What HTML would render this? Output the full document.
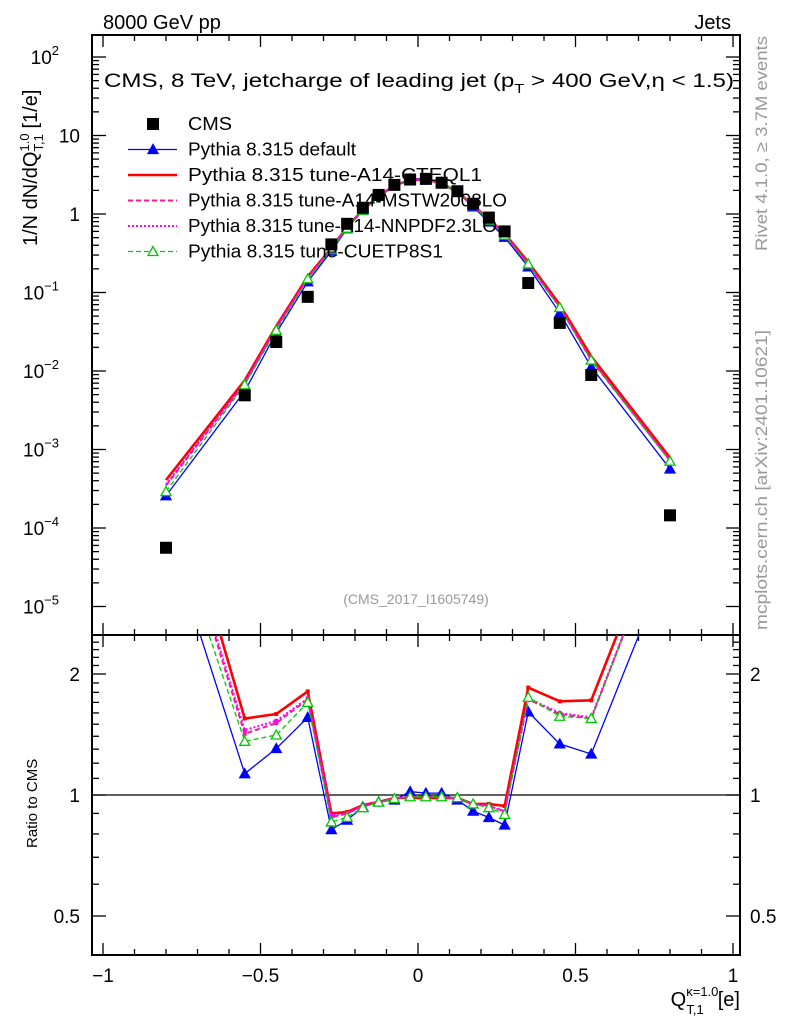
<!DOCTYPE html>
<html><head><meta charset="utf-8"><style>
html,body{margin:0;padding:0;background:#fff;}
svg{display:block;font-family:"Liberation Sans","DejaVu Sans",sans-serif;}
</style></head><body>
<svg id="chart" width="786" height="1024" viewBox="0 0 786 1024" xmlns="http://www.w3.org/2000/svg">
<defs>
<clipPath id="clipMain"><rect x="92" y="35" width="648" height="600"/></clipPath>
<clipPath id="clipRatio"><rect x="92" y="635" width="648" height="320"/></clipPath>
</defs>
<rect width="786" height="1024" fill="#fff"/>
<g id="axes"></g>
<g id="marks"></g>
<g id="texts">
<text x="103" y="29" font-size="20">8000 GeV pp</text>
<text x="731" y="29" font-size="20" text-anchor="end">Jets</text>
<text x="104" y="87" font-size="19" textLength="630" lengthAdjust="spacingAndGlyphs">CMS, 8 TeV, jetcharge of leading jet (p<tspan font-size="13" dy="6">T</tspan><tspan dy="-6"> &gt; 400 GeV,η &lt; 1.5)</tspan></text>
<text x="416" y="604" font-size="14" fill="#999" text-anchor="middle">(CMS_2017_I1605749)</text>
<text transform="translate(767,251) rotate(-90)" font-size="17" fill="#999" textLength="215" lengthAdjust="spacingAndGlyphs">Rivet 4.1.0, ≥ 3.7M events</text>
<text transform="translate(767,630) rotate(-90)" font-size="17" fill="#999" textLength="300" lengthAdjust="spacingAndGlyphs">mcplots.cern.ch [arXiv:2401.10621]</text>
<text transform="translate(37,246) rotate(-90)" font-size="20">1/N dN/dQ<tspan font-size="13" dy="-8">1.0</tspan><tspan font-size="13" dx="-18" dy="14">T,1</tspan><tspan dy="-6"> [1/e]</tspan></text>
<text transform="translate(37,848) rotate(-90)" font-size="15">Ratio to CMS</text>
<text x="740" y="1006" font-size="20" text-anchor="end">Q<tspan font-size="13" dy="-10">κ=1.0</tspan><tspan font-size="13" dx="-32" dy="18">T,1</tspan><tspan dx="14" dy="-8">[e]</tspan></text>
</g>
<g id="legend"></g>
</svg>
<script>
const binCenters = [-0.8,-0.55,-0.45,-0.35,-0.275,-0.225,-0.175,-0.125,-0.075,-0.025,0.025,0.075,0.125,0.175,0.225,0.275,0.35,0.45,0.55,0.8];
const cmsValues = [5.6e-5,4.9e-3,0.0234,0.088,0.41,0.75,1.2,1.75,2.35,2.75,2.8,2.5,1.95,1.35,0.9,0.6,0.132,0.041,0.0089,1.45e-4];
const ratioDefault = [4.6,1.13,1.305,1.56,0.82,0.866,0.934,0.961,0.972,1.02,1.011,1.011,0.972,0.912,0.879,0.842,1.61,1.34,1.265,3.9];
const ratioCTEQ = [7.3,1.55,1.59,1.81,0.90,0.907,0.944,0.961,0.983,0.983,0.983,0.983,0.983,0.95,0.95,0.939,1.85,1.71,1.72,5.4];
const ratioMSTW = [6.2,1.42,1.51,1.73,0.88,0.9,0.94,0.96,0.98,0.99,0.99,0.99,0.98,0.95,0.94,0.91,1.73,1.59,1.55,5.0];
const ratioNNPDF = [6.4,1.45,1.53,1.74,0.89,0.9,0.94,0.96,0.98,0.99,0.99,0.99,0.98,0.95,0.94,0.91,1.74,1.6,1.56,5.0];
const ratioCUETP = [5.2,1.36,1.41,1.70,0.857,0.88,0.93,0.96,0.98,0.99,0.99,0.99,0.985,0.95,0.93,0.895,1.75,1.57,1.55,4.9];
const xTickLabels = ["−1","−0.5","0","0.5","1"];
const xTickValues = [-1,-0.5,0,0.5,1];
const yMainExps = [-5,-4,-3,-2,-1,0,1,2];
const ratioTickValues = [0.5,1,2];

const NS="http://www.w3.org/2000/svg";
const L=92,R=740,T=35,MB=635,RB=955;
function X(v){return 418+315*v;}
function YM(v){return 214-78.5*Math.log10(v);}
function YR(v){return 795-121*Math.log2(v);}
function mk(tag,attrs,parent){const e=document.createElementNS(NS,tag);for(const k in attrs)e.setAttribute(k,attrs[k]);parent.appendChild(e);return e;}
const axes=document.getElementById('axes'), marks=document.getElementById('marks'), legend=document.getElementById('legend');

const f1=mk('rect',{x:L,y:T,width:R-L,height:MB-T,fill:'none',stroke:'#000','stroke-width':2},axes);


const f2=mk('rect',{x:L,y:MB,width:R-L,height:RB-MB,fill:'none',stroke:'#000','stroke-width':2},axes);



for(let i=-10;i<=10;i++){
  const v=i/10, x=X(v), major=(i%5===0), len=major?12:6;
  [[T,1],[MB,-1],[MB,1],[RB,-1]].forEach(([y,d])=>{
    const t=mk('line',{x1:x,x2:x,y1:y,y2:y+d*len,stroke:'#000','stroke-width':1.3},axes);
    
    
  });
}
xTickValues.forEach((v,i)=>{
  const t=mk('text',{x:X(v),y:982,'font-size':19,'text-anchor':'middle'},axes);
  t.textContent=xTickLabels[i];
  
  
});
yMainExps.forEach(e=>{
  for(let m=1;m<10;m++){
    const v=m*Math.pow(10,e), y=YM(v);
    if(y<T||y>MB) continue;
    const len=m===1?14:7;
    const a=mk('line',{x1:L,x2:L+len,y1:y,y2:y,stroke:'#000','stroke-width':1.3},axes);
    
    
    const b=mk('line',{x1:R,x2:R-len,y1:y,y2:y,stroke:'#000','stroke-width':1.3},axes);
    
    
  }
  const y=YM(Math.pow(10,e));
  const t=mk('text',{x:80,y:y+7,'font-size':19,'text-anchor':'end'},axes);
  
  
  if(e===0) t.textContent='1';
  else if(e===1) t.textContent='10';
  else { t.textContent='10'; const s=mk('tspan',{'font-size':13,dy:-9},t); s.textContent=String(e).replace('-','−'); t.setAttribute('x',59); }
});
for(let k=0;k<=25;k++){
  const v=0.4+k*0.1; const y=YR(v);
  if(y<MB||y>RB) continue;
  const major=ratioTickValues.some(r=>Math.abs(r-v)<1e-6);
  const len=major?14:7;
  const a=mk('line',{x1:L,x2:L+len,y1:y,y2:y,stroke:'#000','stroke-width':1.3},axes);
  
  
  const b=mk('line',{x1:R,x2:R-len,y1:y,y2:y,stroke:'#000','stroke-width':1.3},axes);
  
  
}
ratioTickValues.forEach(v=>{
  const t=mk('text',{x:80,y:YR(v)+7,'font-size':19,'text-anchor':'end'},axes);
  t.textContent=String(v);
  
  
  const t2=mk('text',{x:750,y:YR(v)+7,'font-size':19},axes);
  t2.textContent=String(v);
  
  
});
const one=mk('line',{x1:L,x2:R,y1:YR(1),y2:YR(1),stroke:'#000','stroke-width':1.3},axes);



const series=[
 {name:'default',ratio:ratioDefault,color:'#0000ff',w:1.3,dash:null,marker:'tri'},
 {name:'cteq',ratio:ratioCTEQ,color:'#ff0000',w:2.6,dash:null,marker:'sq'},
 {name:'mstw',ratio:ratioMSTW,color:'#ff1493',w:2,dash:'5,3',marker:'sq'},
 {name:'nnpdf',ratio:ratioNNPDF,color:'#ff00ff',w:2,dash:'2,2',marker:'sq'},
 {name:'cuetp',ratio:ratioCUETP,color:'#00c800',w:1.3,dash:'5,3',marker:'otri'}
];
function marker(type,x,y,color,parent,size){
  const s=size||6;
  let e;
  if(type==='tri'||type==='otri'){
    e=mk('polygon',{points:`${x},${y-s} ${x-s},${y+s*0.8} ${x+s},${y+s*0.8}`,fill:type==='tri'?color:'#fff',stroke:color,'stroke-width':1.3},parent);
  } else if(type==='sq'){
    e=mk('rect',{x:x-2,y:y-2,width:4,height:4,fill:color},parent);
  } else {
    e=mk('rect',{x:x-s,y:y-s,width:2*s,height:2*s,fill:color},parent);
  }
  return e;
}
const gMain=mk('g',{'clip-path':'url(#clipMain)'},marks);
const gRatio=mk('g',{'clip-path':'url(#clipRatio)'},marks);
series.forEach(s=>{
  const mainPts=binCenters.map((x,i)=>X(x)+','+YM(cmsValues[i]*s.ratio[i])).join(' ');
  const ratPts=binCenters.map((x,i)=>X(x)+','+YR(s.ratio[i])).join(' ');
  const a={fill:'none',stroke:s.color,'stroke-width':s.w};
  if(s.dash) a['stroke-dasharray']=s.dash;
  const l1=mk('polyline',Object.assign({points:mainPts},a),gMain);
  
  
  const l2=mk('polyline',Object.assign({points:ratPts},a),gRatio);
  
  
  if(s.marker!=='sq'){
    binCenters.forEach((x,i)=>{
      const m1=marker(s.marker,X(x),YM(cmsValues[i]*s.ratio[i]),s.color,gMain,5);
      
      
      const m2=marker(s.marker,X(x),YR(s.ratio[i]),s.color,gRatio,5);
      
      
    });
  } else {
    binCenters.forEach((x,i)=>{
      const m2=marker('sq',X(x),YR(s.ratio[i]),s.color,gRatio);
      
      
    });
  }
});
binCenters.forEach((x,i)=>{
  const m=marker('cms',X(x),YM(cmsValues[i]),'#000',gMain,6);
  
  
});

const legItems=[
 {label:'CMS',color:'#000',marker:'cms',w:0,dash:null,len:44},
 {label:'Pythia 8.315 default',color:'#0000ff',marker:'tri',w:1.3,dash:null,len:168},
 {label:'Pythia 8.315 tune-A14-CTEQL1',color:'#ff0000',marker:null,w:2.6,dash:null,len:294},
 {label:'Pythia 8.315 tune-A14-MSTW2008LO',color:'#ff1493',marker:null,w:2,dash:'5,3',len:319},
 {label:'Pythia 8.315 tune-A14-NNPDF2.3LO',color:'#ff00ff',marker:null,w:2,dash:'2,2',len:309},
 {label:'Pythia 8.315 tune-CUETP8S1',color:'#00c800',marker:'otri',w:1.3,dash:'5,3',len:255}
];
legItems.forEach((it,i)=>{
  const y=124+i*25.5;
  const g=mk('g',{},legend);
  
  
  if(it.w){const a={x1:128,x2:177,y1:y,y2:y,stroke:it.color,'stroke-width':it.w}; if(it.dash)a['stroke-dasharray']=it.dash; mk('line',a,g);}
  if(it.marker) marker(it.marker,153,y,it.color,g,it.marker==='cms'?6:5);
  const t=mk('text',{x:188,y:y+6,'font-size':18,textLength:it.len,lengthAdjust:'spacingAndGlyphs'},g);
  t.textContent=it.label;
});
</script>
</body></html>
